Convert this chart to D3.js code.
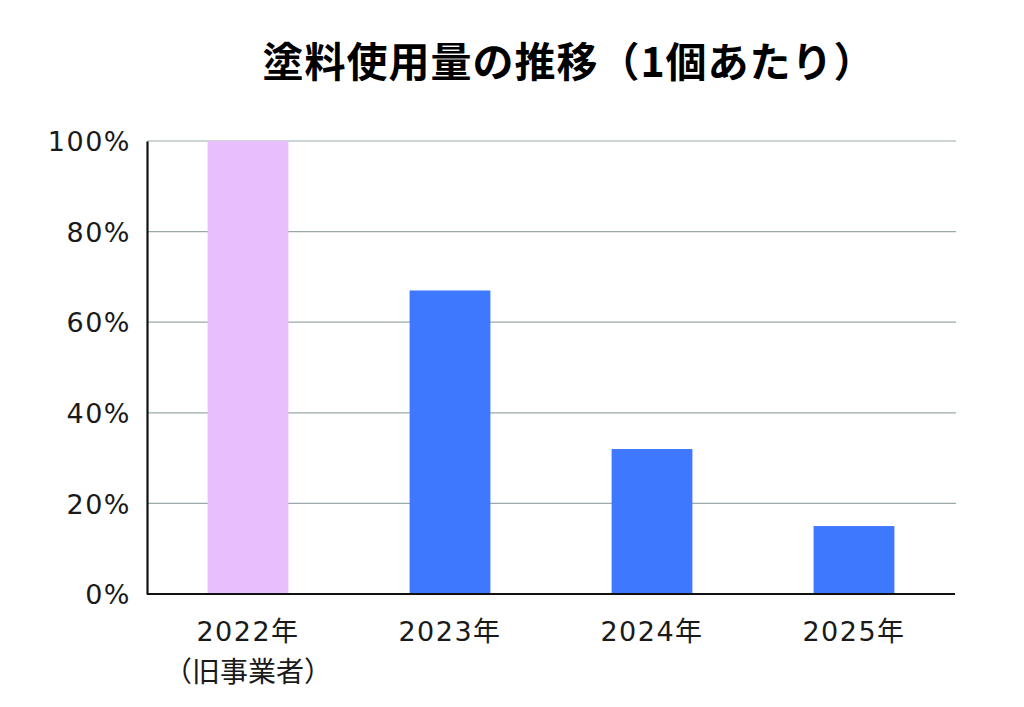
<!DOCTYPE html>
<html><head><meta charset="utf-8">
<script src="https://cdn.jsdelivr.net/npm/d3@7"></script>
<style>body{margin:0;background:#fff}svg{display:block}</style>
</head><body>
<script>
const categories = ["2022年", "2023年", "2024年", "2025年"];
const subLabels = ["（旧事業者）", "", "", ""];
const values = [100, 67, 32, 15];
const colors = ["#E9BEFD", "#3D78FF", "#3D78FF", "#3D78FF"];
const yTicks = [0, 20, 40, 60, 80, 100];
const title = "塗料使用量の推移（1個あたり）";

const W = 1024, H = 707;
const m = {left: 147, right: 69, top: 141, bottom: 113};
const svg = d3.select("body").append("svg").attr("width", W).attr("height", H);
const font = "'DejaVu Sans', 'Noto Sans CJK JP', sans-serif";
const tfont = "'Noto Sans CJK JP', sans-serif";

const x = d3.scaleBand().domain(categories).range([m.left, W - m.right]).paddingInner(0.6).paddingOuter(0.3);
const y = d3.scaleLinear().domain([0, 100]).range([H - m.bottom, m.top]);

// grid
svg.append("g").selectAll("line").data(yTicks.filter(d => d > 0)).join("line")
  .attr("x1", m.left).attr("x2", W - m.right + 1)
  .attr("y1", d => y(d)).attr("y2", d => y(d))
  .attr("stroke", "#9aa9a9").attr("stroke-width", 1.2);

// bars
svg.append("g").selectAll("rect").data(values).join("rect")
  .attr("x", (d, i) => x(categories[i]))
  .attr("width", x.bandwidth())
  .attr("y", d => y(d))
  .attr("height", d => y(0) - y(d))
  .attr("fill", (d, i) => colors[i]);

// y axis
const yAxis = d3.axisLeft(y).tickValues(yTicks).tickFormat(d => d + "%").tickSize(0).tickPadding(16);
const gy = svg.append("g").attr("transform", `translate(${m.left},0)`).call(yAxis);
gy.select(".domain").attr("stroke", "#111").attr("stroke-width", 2.2);
gy.selectAll("text").attr("font-family", font).attr("font-size", 27)
  .attr("letter-spacing", 1.5).attr("fill", "#1a1a1a").attr("dy", "0.36em");

// x axis
const xAxis = d3.axisBottom(x).tickSize(0).tickPadding(28);
const gx = svg.append("g").attr("transform", `translate(0,${y(0)})`).call(xAxis);
gx.select(".domain").attr("stroke", "#111").attr("stroke-width", 2.2).attr("d", `M${m.left},0H${W - m.right}`);
gx.selectAll("text").attr("font-family", font).attr("font-size", 27).attr("letter-spacing", 1.5)
  .attr("fill", "#1a1a1a").attr("dy", "0.7em");
gx.selectAll(".tick").each(function(d, i) {
  if (subLabels[i]) {
    d3.select(this).append("text").attr("y", 88).attr("text-anchor", "middle")
      .attr("font-family", tfont).attr("font-size", 28).attr("fill", "#1a1a1a").text(subLabels[i]);
  }
});

// title
svg.append("text").attr("x", 569).attr("y", 77).attr("text-anchor", "middle")
  .attr("font-family", tfont).attr("font-weight", "bold").attr("font-size", 41).attr("letter-spacing", 1)
  .attr("fill", "#000").text(title);
</script>
</body></html>
